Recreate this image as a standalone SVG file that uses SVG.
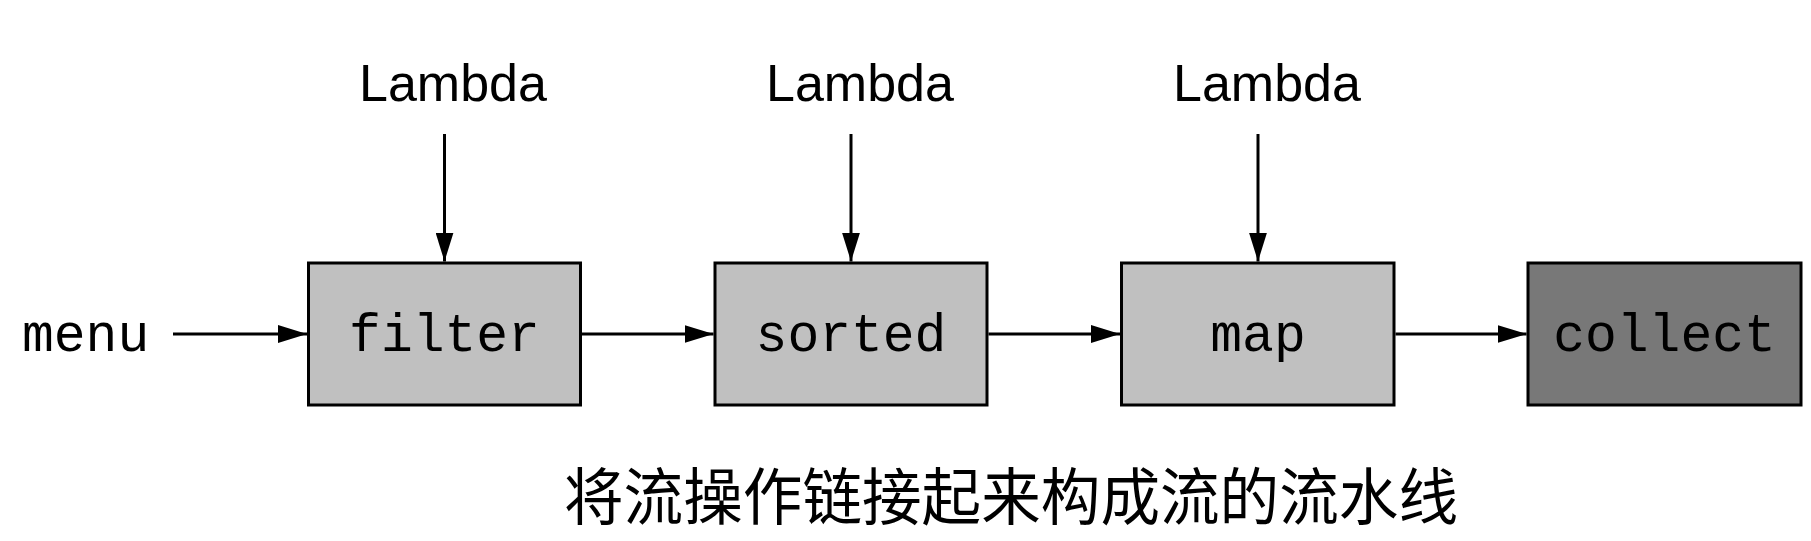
<svg xmlns="http://www.w3.org/2000/svg" width="1811" height="541" viewBox="0 0 1811 541">
  <style>
    .box { stroke: #000; stroke-width: 3; }
    .op { fill: #c0c0c0; }
    .term { fill: #787878; }
    .mono { font-family: "Liberation Mono", "Courier New", monospace; font-size: 53px; fill: #000; }
    .lam { font-family: "Liberation Sans", Arial, sans-serif; font-size: 52px; fill: #000; text-anchor: middle; }
    .cap { font-family: "Noto Sans CJK SC", "Noto Sans CJK TC", sans-serif; font-size: 62px; fill: #000; }
    .conn { stroke: #000; stroke-width: 3; fill: none; marker-end: url(#arrow); }
  </style>
  <defs>
    <marker id="arrow" markerUnits="userSpaceOnUse" markerWidth="29" markerHeight="18" refX="29" refY="9" orient="auto">
      <path d="M0,0 L29,9 L0,18 Z" fill="#000"/>
    </marker>
  </defs>
  <rect width="1811" height="541" fill="#fff"/>

  <g id="menu">
    <text class="mono" x="22" y="351">menu</text>
  </g>

  <g id="lambda1"><text class="lam" x="453" y="101">Lambda</text></g>
  <g id="lambda2"><text class="lam" x="860" y="101">Lambda</text></g>
  <g id="lambda3"><text class="lam" x="1267" y="101">Lambda</text></g>

  <g id="filter">
    <rect class="box op" x="308.5" y="263" width="272" height="142"/>
    <text class="mono" x="444.5" y="351" text-anchor="middle">filter</text>
  </g>
  <g id="sorted">
    <rect class="box op" x="715" y="263" width="272" height="142"/>
    <text class="mono" x="851" y="351" text-anchor="middle">sorted</text>
  </g>
  <g id="map">
    <rect class="box op" x="1121.5" y="263" width="272.5" height="142"/>
    <text class="mono" x="1258" y="351" text-anchor="middle">map</text>
  </g>
  <g id="collect">
    <rect class="box term" x="1528" y="263" width="273" height="142"/>
    <text class="mono" x="1664.5" y="351" text-anchor="middle">collect</text>
  </g>

  <g id="connectors">
    <line class="conn" x1="173" y1="334" x2="307" y2="334"/>
    <line class="conn" x1="582" y1="334" x2="713.5" y2="334"/>
    <line class="conn" x1="988.5" y1="334" x2="1120" y2="334"/>
    <line class="conn" x1="1395.5" y1="334" x2="1526.5" y2="334"/>
    <line class="conn" x1="444.5" y1="134" x2="444.5" y2="261.5"/>
    <line class="conn" x1="851" y1="134" x2="851" y2="261.5"/>
    <line class="conn" x1="1258" y1="134" x2="1258" y2="261.5"/>
  </g>

  <g id="caption">
    <text class="cap" x="564" y="520" textLength="894" lengthAdjust="spacingAndGlyphs">将流操作链接起来构成流的流水线</text>
  </g>
</svg>
